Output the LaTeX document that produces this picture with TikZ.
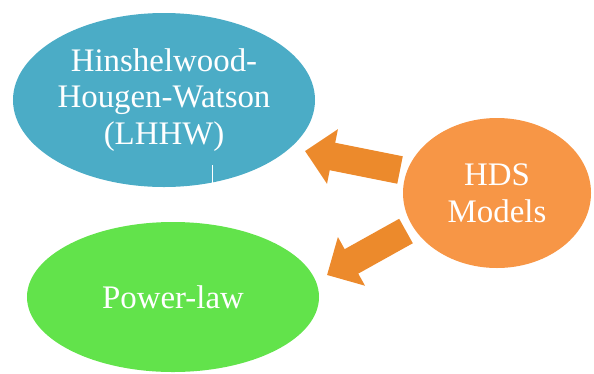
\documentclass[tikz,border=0pt]{standalone}
\usepackage{xcolor}
\usepackage{fontspec}
\setmainfont{Liberation Serif}
\usepackage{tikz}
\usetikzlibrary{arrows.meta,positioning,calc,shapes.geometric}
\definecolor{lhhwblue}{HTML}{4BACC6}
\definecolor{hdsorange}{HTML}{F79646}
\definecolor{powgreen}{HTML}{62E34B}
\definecolor{arroworange}{HTML}{EC8A2C}
\newcommand{\modelnode}[6]{
  \node[ellipse,fill=#3,text=white,inner sep=0pt,minimum width=#4,minimum height=#5,
        align=center,font=\fontsize{33}{37}\selectfont] (#1) at #2 {#6};
}
\tikzset{hdsarrow/.style={draw=arroworange,line width=28bp,
  -{Triangle[length=28bp,width=54bp,fill=arroworange]}}}

\begin{document}
\begin{tikzpicture}[>=Latex,x=1bp,y=-1bp]
  \useasboundingbox (0,0) rectangle (594,373);
  \modelnode{lhhw}{(164,100)}{lhhwblue}{302bp}{174bp}{Hinshelwood-\\Hougen-Watson\\(LHHW)}
  \modelnode{hds}{(497,193)}{hdsorange}{188bp}{150bp}{HDS\\Models}
  \modelnode{power}{(173,297)}{powgreen}{292bp}{150bp}{Power-law}
  \draw[white,thin] (212,165) -- (212,183);
  % arrows from the HDS models
  \coordinate (up tail) at (400,170);
  \coordinate (up tip) at (305,151);
  \coordinate (low tail) at (406,231);
  \coordinate (low tip) at (327,275);
  \draw[hdsarrow] (up tail) -- (up tip);
  \draw[hdsarrow] (low tail) -- (low tip);
\end{tikzpicture}
\end{document}
